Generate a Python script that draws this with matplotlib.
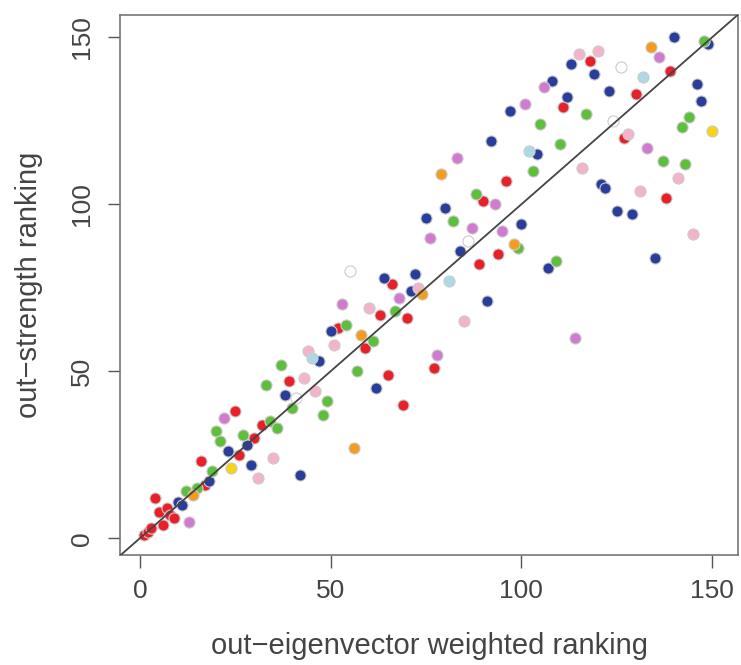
import numpy as np
import matplotlib
matplotlib.use("Agg")
import matplotlib.pyplot as plt

plt.rcParams['font.family'] = ['Liberation Sans', 'DejaVu Sans']

# (eigenvector rank, strength rank), grouped by colour
red_x = [1, 2, 3, 6, 4, 5, 7, 8, 9, 16, 17, 25, 26, 30, 32, 39, 52, 59, 63, 65, 66, 69, 70, 77, 89, 90, 94, 96, 111, 118, 127, 130, 138, 139]
red_y = [1, 2, 3, 4, 12, 8, 9, 7, 6, 23, 16, 38, 25, 30, 34, 47, 63, 57, 67, 49, 76, 40, 66, 51, 82, 101, 85, 107, 129, 143, 120, 133, 102, 140]

blue_x = [10, 11, 18, 23, 28, 29, 38, 42, 47, 50, 62, 64, 71, 72, 75, 80, 84, 91, 92, 97, 100, 104, 107, 108, 112, 113, 119, 121, 122, 123, 125, 129, 135, 140, 146, 147, 149]
blue_y = [11, 10, 17, 26, 28, 22, 43, 19, 53, 62, 45, 78, 74, 79, 96, 99, 86, 71, 119, 128, 94, 115, 81, 137, 132, 142, 139, 106, 105, 134, 98, 97, 84, 150, 136, 131, 148]

green_x = [12, 15, 19, 20, 21, 27, 33, 34, 36, 37, 40, 48, 49, 54, 57, 61, 67, 82, 88, 99, 103, 105, 109, 110, 117, 137, 142, 143, 144, 148]
green_y = [14, 15, 20, 32, 29, 31, 46, 35, 33, 52, 39, 37, 41, 64, 50, 59, 68, 95, 103, 87, 110, 124, 83, 118, 127, 113, 123, 112, 126, 149]

violet_x = [13, 22, 53, 68, 76, 78, 83, 87, 93, 95, 101, 106, 114, 133, 136]
violet_y = [5, 36, 70, 72, 90, 55, 114, 93, 100, 92, 130, 135, 60, 117, 144]

pink_x = [31, 35, 43, 44, 46, 51, 60, 73, 85, 115, 116, 120, 128, 131, 141, 145]
pink_y = [18, 24, 48, 56, 44, 58, 69, 75, 65, 145, 111, 146, 121, 104, 108, 91]

orange_x = [14, 56, 58, 74, 79, 98, 134]
orange_y = [13, 27, 61, 73, 109, 88, 147]

yellow_x = [24, 150]
yellow_y = [21, 122]

lightblue_x = [45, 81, 102, 132]
lightblue_y = [54, 77, 116, 138]

white_x = [41, 55, 86, 124, 126]
white_y = [42, 80, 89, 125, 141]

groups = [
    (red_x, red_y, '#E8202A'),
    (blue_x, blue_y, '#2B3D9B'),
    (green_x, green_y, '#5DBF3C'),
    (violet_x, violet_y, '#D07BD0'),
    (pink_x, pink_y, '#F4B3CB'),
    (orange_x, orange_y, '#F39C1F'),
    (yellow_x, yellow_y, '#F7D417'),
    (lightblue_x, lightblue_y, '#ADD8E6'),
    (white_x, white_y, 'white'),
]

fig = plt.figure(figsize=(7.41, 6.65), dpi=100)
ax = fig.add_axes([0.162, 0.165, 0.834, 0.812])

for xs, ys, col in groups:
    ax.scatter(xs, ys, s=64, c=col, edgecolors='#CCCCCC', linewidths=0.8, zorder=2)

ax.axline((0, 0), slope=1, color='#444444', lw=1.3, zorder=3)

ax.set_xlim(-5.2, 156.8)
ax.set_ylim(-5.1, 156.6)
ax.set_xticks([0, 50, 100, 150])
ax.set_yticks([0, 50, 100, 150])
ax.set_yticklabels(['0', '50', '100', '150'], rotation=90, va='center')
ax.tick_params(axis='both', labelsize=19, length=9, width=1, color='#555555',
               labelcolor='#444444')
ax.tick_params(axis='x', pad=8)
ax.tick_params(axis='y', pad=10)
for sp in ax.spines.values():
    sp.set_color('#777777')
    sp.set_linewidth(1.2)

ax.set_xlabel('out\u2212eigenvector weighted ranking', fontsize=21, color='#444444')
ax.set_ylabel('out\u2212strength ranking', fontsize=21, color='#444444')
ax.xaxis.set_label_coords(0.5, -0.143)
ax.yaxis.set_label_coords(-0.125, 0.5)

fig.savefig('out.png', dpi=100)
